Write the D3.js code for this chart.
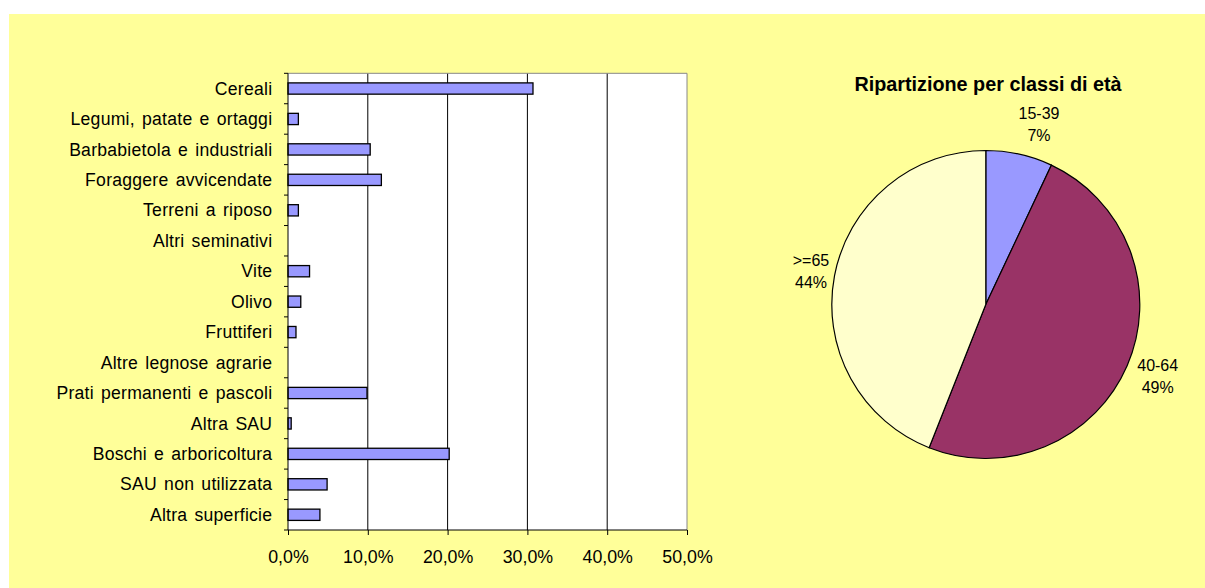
<!DOCTYPE html>
<html><head><meta charset="utf-8">
<script src="https://cdn.jsdelivr.net/npm/d3@7"></script>
<style>body{margin:0;background:#fff}svg{display:block;font-family:"Liberation Sans",Arial,sans-serif}</style>
</head><body>
<svg id="c" width="1205" height="588"></svg>
<script>
const categories = ["Cereali","Legumi, patate e ortaggi","Barbabietola e industriali","Foraggere avvicendate","Terreni a riposo","Altri seminativi","Vite","Olivo","Fruttiferi","Altre legnose agrarie","Prati permanenti e pascoli","Altra SAU","Boschi e arboricoltura","SAU non utilizzata","Altra superficie"];
const values = [30.7,1.3,10.3,11.7,1.3,0,2.7,1.6,1.0,0,9.9,0.4,20.2,4.9,4.0];
const xTicks = [0,10,20,30,40,50];
const pieTitle = "Ripartizione per classi di età";
const pieClasses = ["15-39","40-64",">=65"];
const pieValues = [7,49,44];
const pieColors = ["#9999FF","#993366","#FFFFCC"];

const svg = d3.select("#c");
svg.append("rect").attr("x",9).attr("y",14).attr("width",1196).attr("height",574).attr("fill","#FFFF99");

// Bar chart
const L=288,R=687,T=73.3,B=530;
const x = d3.scaleLinear().domain([0,50]).range([L,R]);
const y = d3.scaleBand().domain(categories).range([T,B]).paddingInner(0.63).paddingOuter(0.315);
const yb = d3.scaleBand().domain(categories).range([T,B]);
svg.append("rect").attr("x",L).attr("y",T).attr("width",R-L).attr("height",B-T).attr("fill","#fff");
svg.append("g").selectAll("line").data(xTicks.slice(1)).join("line")
  .attr("x1",d=>x(d)).attr("x2",d=>x(d)).attr("y1",T).attr("y2",B)
  .attr("stroke",(d,i)=>i===4?"#888":"#000").attr("stroke-width",1);
svg.append("line").attr("x1",L).attr("x2",R).attr("y1",T).attr("y2",T).attr("stroke","#888");
svg.append("g").selectAll("rect").data(values).join("rect")
  .attr("x",x(0)).attr("y",(d,i)=>y(categories[i]))
  .attr("width",d=>x(d)-x(0)).attr("height",y.bandwidth())
  .attr("fill","#9999FF").attr("stroke","#000").attr("stroke-width",1.3)
  .attr("display",d=>d>0?null:"none");
// y axis
const gy = svg.append("g").attr("transform",`translate(${L},0)`);
gy.append("line").attr("x1",0).attr("x2",0).attr("y1",T).attr("y2",B).attr("stroke","#000");
gy.selectAll(".t").data(categories.concat(["_end"])).join("line")
  .attr("x1",-4).attr("x2",0)
  .attr("y1",(d,i)=>T+i*yb.step()).attr("y2",(d,i)=>T+i*yb.step()).attr("stroke","#000");
gy.selectAll("text").data(categories).join("text")
  .attr("x",-15.7).attr("y",d=>yb(d)+yb.bandwidth()/2).attr("dy","0.35em")
  .attr("text-anchor","end").attr("font-size",17.6).attr("fill","#000")
  .attr("letter-spacing",0.25).attr("word-spacing",2).text(d=>d);
// x axis
const xAxis = d3.axisBottom(x).tickValues(xTicks).tickSize(5).tickPadding(15)
  .tickFormat(d=>d3.format(".1f")(d).replace(".",",")+"%");
const gx = svg.append("g").attr("transform",`translate(0,${B})`).call(xAxis);
gx.select(".domain").attr("stroke","#000").attr("d",`M${L},0H${R}`);
gx.selectAll(".tick line").attr("stroke","#000");
gx.selectAll("text").attr("font-size",17.8).attr("fill","#000").attr("font-family","Liberation Sans, Arial, sans-serif");

// Pie
const cx=985.8, cy=304.5, r=154;
svg.append("text").attr("x",988).attr("y",91).attr("text-anchor","middle")
  .attr("font-size",19.8).attr("font-weight","bold").text(pieTitle);
const pie = d3.pie().sort(null).value(d=>d);
const arcs = pie(pieValues);
const arc = d3.arc().innerRadius(0).outerRadius(r);
const gp = svg.append("g").attr("transform",`translate(${cx},${cy})`);
gp.selectAll("path").data(arcs).join("path").attr("d",arc)
  .attr("fill",(d,i)=>pieColors[i]).attr("stroke","#000").attr("stroke-width",1.2);
const labelPos = [[1039,113],[1157.7,365],[811,260]];
pieClasses.forEach((c,i)=>{
  const t = svg.append("text").attr("text-anchor","middle").attr("font-size",16).attr("fill","#000");
  t.append("tspan").attr("x",labelPos[i][0]).attr("y",labelPos[i][1]).attr("dy","0.35em").text(c);
  t.append("tspan").attr("x",labelPos[i][0]).attr("y",labelPos[i][1]+22.5).attr("dy","0.35em").text(pieValues[i]+"%");
});
</script>
</body></html>
